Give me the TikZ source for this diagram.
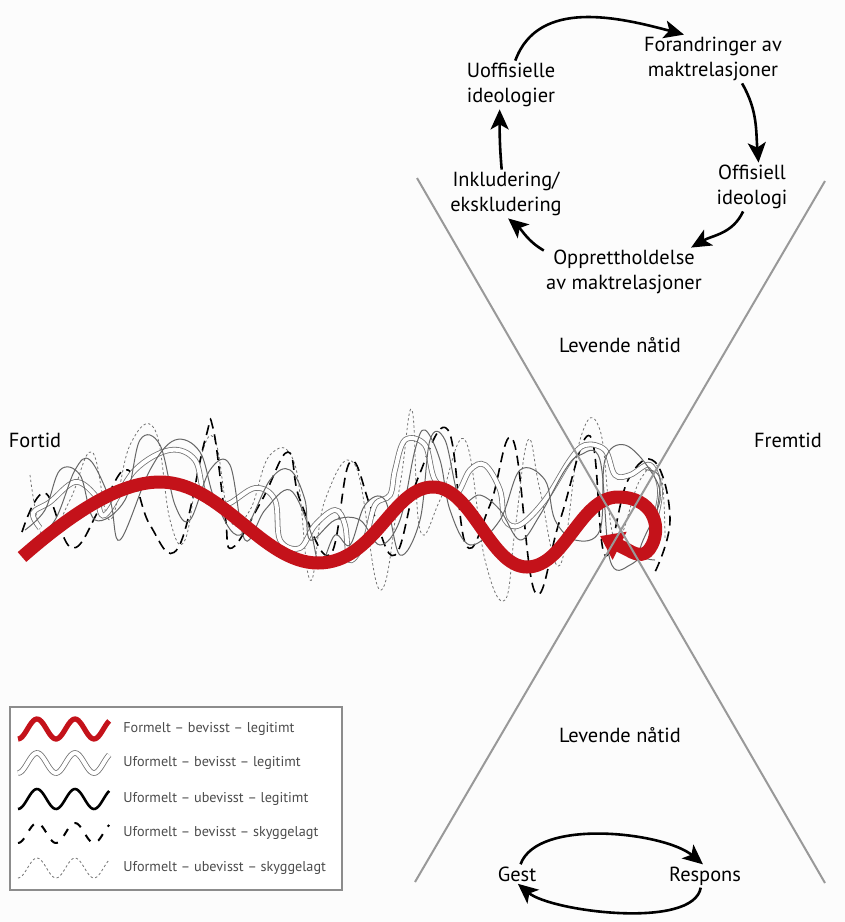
\documentclass[tikz,border=0pt]{standalone}
\usepackage{fontspec}
\setmainfont{PT Sans}
\usepackage{tikz}
\usetikzlibrary{arrows.meta}

\definecolor{formred}{RGB}{196,18,26}
\definecolor{paper}{RGB}{252,252,252}

\begin{document}
\begin{tikzpicture}[x=0.5pt,y=-0.5pt,
	lbl/.style={font=\fontsize{10.2}{12.6}\selectfont,align=center,inner sep=1pt},
	legtxt/.style={font=\fontsize{7.1}{8}\selectfont,text=black!70,anchor=west,inner sep=0pt},
	cyc/.style={line width=1.3pt,-{Stealth[length=10pt,width=9pt,inset=2.5pt]}},
	cone/.style={draw=black!40,line width=1pt},
	formline/.style={draw=formred,line width=6.5pt,-{Triangle[length=11pt 0 0,width=15pt 0 0]}},
	formwave/.style={draw=formred,line width=2.6pt},
	outwave/.style={draw=black!55,line width=0.4pt,double=white,double distance=2pt},
	solidwave/.style={draw=black,line width=1.3pt},
	thinwave/.style={draw=black!60,line width=0.5pt},
	dashwave/.style={draw=black,line width=0.8pt,dash pattern=on 5pt off 3pt},
	legdash/.style={draw=black,line width=1pt,dash pattern=on 4pt off 4.5pt},
	dotwave/.style={draw=black!55,line width=0.4pt,dash pattern=on 1.2pt off 1.2pt}]

			\fill[paper] (0,0) rectangle (845,922);
			\useasboundingbox (0,0) rectangle (845,922);

			% the tangled lines
			\draw[dotwave] plot[smooth,tension=0.7] coordinates {(30,475) (45,540) (70,500) (92,452) (110,520) (130,445) (155,430) (170,520) (185,540) (200,460) (215,440) (230,520) (250,510) (270,455) (295,465) (310,580) (325,500) (355,465) (380,590) (400,485) (412,410) (420,530) (440,500) (465,440) (485,560) (505,600) (515,530) (528,440) (540,490) (560,565) (580,440) (600,430) (615,540) (640,480) (660,470) (665,540)};
			\draw[dashwave] plot[smooth,tension=0.7] coordinates {(22,532) (45,493) (72,548) (102,505) (128,470) (150,525) (178,548) (205,440) (213,428) (225,515) (232,548) (262,500) (288,452) (300,500) (330,555) (350,462) (372,510) (395,555) (418,478) (448,430) (466,545) (490,505) (513,440) (535,592) (560,520) (590,436) (605,555) (628,480) (655,462) (670,520) (655,572)};
			\draw[outwave] plot[smooth,tension=0.6] coordinates {(40,528) (33,513) (50,502) (75,482) (95,495) (105,515) (135,470) (170,450) (195,460) (205,495) (225,505) (255,488) (275,500) (280,540) (300,548) (315,525) (335,510) (345,525) (350,560) (365,540) (375,505) (390,495) (395,470) (405,440) (425,445) (435,480) (455,495) (470,470) (485,465) (500,490) (505,520) (520,525) (545,500) (570,460) (585,445) (605,450) (615,475) (630,475) (650,465) (660,490) (655,520)};
			\draw[thinwave] plot[smooth,tension=0.6] coordinates {(25,530) (45,510) (60,470) (80,475) (95,520) (125,500) (140,440) (160,445) (175,505) (190,520) (210,470) (230,465) (245,540) (265,510) (290,490) (310,530) (320,565) (335,535) (350,545) (365,505) (385,500) (400,555) (420,520) (430,440) (445,440) (460,500) (480,495) (500,510) (520,540) (540,515) (565,470) (580,455) (600,460) (610,560) (630,565) (650,540) (660,480) (645,470)};
			\draw[thinwave] plot[smooth,tension=0.6] coordinates {(30,545) (55,520) (75,470) (90,460) (110,500) (120,540) (150,470) (175,440) (200,452) (215,500) (240,535) (270,480) (290,470) (305,500) (310,540) (335,520) (360,520) (380,545) (400,520) (415,450) (425,430) (440,460) (450,510) (470,545) (500,520) (520,470) (545,480) (555,520) (575,540) (600,530) (605,460) (625,445) (650,470) (660,500) (640,550) (655,560)};

			\draw[formline] (22,557) .. controls (70,515) and (118,482) .. (160,482)
			    .. controls (222,482) and (262,563) .. (318,563)
			    .. controls (375,563) and (392,487) .. (433,487)
			    .. controls (472,487) and (490,567) .. (527,567)
			    .. controls (565,567) and (580,497) .. (618,497)
			    .. controls (652,497) and (662,525) .. (652,545)
			    .. controls (646,557) and (638,556) .. (628,550) -- (600,536);

			\draw[cone] (417,178) -- (825,883);
			\draw[cone] (825,181) -- (415,882);

			\node[lbl] (fortid) at (35,440) {Fortid};
			\node[lbl] (fremtid) at (788,440) {Fremtid};
			\node[lbl] (naa1) at (620,345) {Levende nåtid};
			\node[lbl] (naa2) at (620,735) {Levende nåtid};

			% cycle
			\node[lbl] (foran) at (713,59) {Forandringer av\\maktrelasjoner};
			\node[lbl] (offi) at (752,187) {Offisiell\\ideologi};
			\node[lbl] (opp) at (624,272) {Opprettholdelse\\av maktrelasjoner};
			\node[lbl] (inkl) at (506,194) {Inkludering/\\ekskludering};
			\node[lbl] (uoff) at (511,85) {Uoffisielle\\ideologier};

			\draw[cyc] (uoff.80) to[out=70,in=165] (foran.140);
			\draw[cyc] (foran.-40) to[out=-60,in=95] (offi.75);
			\draw[cyc] (offi.-110) to[out=-115,in=30] (opp.20);
			\draw[cyc] (opp.165) to[out=150,in=-40] (inkl.-85);
			\draw[cyc] (inkl.100) to[out=95,in=-90] (uoff.-115);

			\node[lbl] (gest) at (517,874) {Gest};
			\node[lbl] (resp) at (705,876) {Respons};
			\draw[cyc] (gest.70) to[out=70,in=140,looseness=0.7] (resp.100);
			\draw[cyc] (resp.-110) to[out=-100,in=-40,looseness=0.6] (gest.-85);

			% legend
			\draw[draw=black!45,line width=0.6pt,fill=white] (10,707) rectangle (342,890);
			\foreach \yy/\sty/\txt in {729/formwave/{Formelt – bevisst – legitimt},
				763/outwave/{Uformelt – bevisst – legitimt},
				799/solidwave/{Uformelt – ubevisst – legitimt},
				833/legdash/{Uformelt – bevisst – skyggelagt},
				868/dotwave/{Uformelt – ubevisst – skyggelagt}} {
			    \draw[\sty] plot[domain=0:2.4,samples=60] ({18+\x*38},{\yy+10*cos(\x*360)});
			    \node[legtxt] (leg\yy) at (123,\yy) {\txt};
			}
\end{tikzpicture}
\end{document}
